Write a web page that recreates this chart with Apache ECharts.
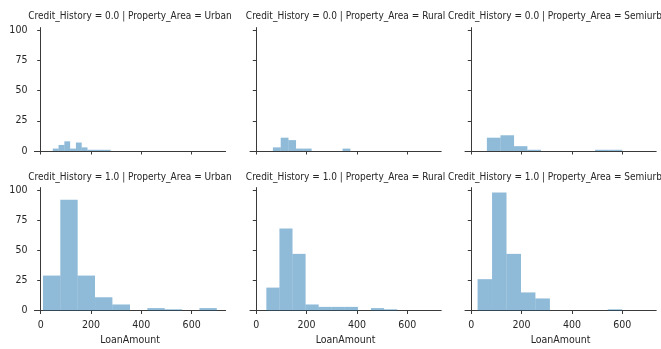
<!DOCTYPE html>
<html><head><meta charset="utf-8">
<script src="https://cdn.jsdelivr.net/npm/echarts@6/dist/echarts.min.js"></script>
<style>html,body{margin:0;padding:0;background:#fff}#c{width:661px;height:349px}</style>
</head><body><div id="c"></div>
<script>
// Facet titles
const titles = [
  'Credit_History = 0.0 | Property_Area = Urban',
  'Credit_History = 0.0 | Property_Area = Rural',
  'Credit_History = 0.0 | Property_Area = Semiurban',
  'Credit_History = 1.0 | Property_Area = Urban',
  'Credit_History = 1.0 | Property_Area = Rural',
  'Credit_History = 1.0 | Property_Area = Semiurban'
];
// Histogram bin edges (LoanAmount) and counts per facet
const edgesCH0Urban = [48, 71, 94, 117, 140, 163, 186, 209, 232, 255, 278];
const countsCH0Urban = [2, 5, 8, 2, 7, 3, 1, 1, 1, 1];
const edgesCH0Rural = [66, 97, 128, 158, 189, 220, 251, 281, 312, 343, 374];
const countsCH0Rural = [3, 11, 9, 2, 2, 0, 0, 0, 0, 2];
const edgesCH0Semi = [62, 116, 170, 223, 277, 331, 385, 439, 492, 546, 600];
const countsCH0Semi = [11, 13, 4, 1, 0, 0, 0, 0, 1, 1];
const edgesCH1Urban = [9, 78, 147, 216, 285, 355, 424, 493, 562, 631, 700];
const countsCH1Urban = [29, 92, 29, 11, 5, 0, 2, 1, 0, 2];
const edgesCH1Rural = [40, 92, 144, 196, 248, 300, 352, 404, 456, 508, 560];
const countsCH1Rural = [19, 68, 47, 5, 3, 3, 3, 0, 2, 1];
const edgesCH1Semi = [25, 82.5, 140, 197.5, 255, 312.5, 370, 427.5, 485, 542.5, 600];
const countsCH1Semi = [26, 98, 47, 15, 10, 0, 0, 0, 0, 1];
// Tick labels
const xTicks = [0, 200, 400, 600];
const yTicks = [0, 25, 50, 75, 100];
const xName = 'LoanAmount';

const panels = [
  [edgesCH0Urban, countsCH0Urban], [edgesCH0Rural, countsCH0Rural], [edgesCH0Semi, countsCH0Semi],
  [edgesCH1Urban, countsCH1Urban], [edgesCH1Rural, countsCH1Rural], [edgesCH1Semi, countsCH1Semi]
];

const FONT = "'DejaVu Sans Condensed', 'Liberation Sans Narrow', sans-serif";
const TXT = '#262626';
const AX = '#3a3a3a';
const lefts = [34.4, 250, 465];
const W = 191.2;
const tops = [27.6, 187.6];
const H = [123.4, 122.9];

const grids = [], xAxes = [], yAxes = [], series = [], titleList = [];
for (let i = 0; i < 6; i++) {
  const r = Math.floor(i / 3), c = i % 3;
  grids.push({left: lefts[c], top: tops[r], width: W, height: H[r]});
  xAxes.push({
    type: 'value', gridIndex: i, min: -25, max: 735,
    axisLine: {show: true, onZero: false, lineStyle: {color: AX, width: 1}},
    axisTick: {show: true, length: 3.5, customValues: xTicks, lineStyle: {color: AX}},
    axisLabel: {show: r === 1, customValues: xTicks, margin: 9, color: TXT, fontSize: 10.5, fontFamily: FONT},
    splitLine: {show: false},
    name: r === 1 ? xName : '', nameLocation: 'middle', nameGap: 24,
    nameTextStyle: {color: TXT, fontSize: 10.5, fontFamily: FONT}
  });
  yAxes.push({
    type: 'value', gridIndex: i, min: 0, max: 102,
    axisLine: {show: true, lineStyle: {color: AX, width: 1}},
    axisTick: {show: true, length: 3.5, customValues: yTicks, lineStyle: {color: AX}},
    axisLabel: {show: c === 0, customValues: yTicks, margin: 7, color: TXT, fontSize: 10.5, fontFamily: FONT},
    splitLine: {show: false}
  });
  const [edges, counts] = panels[i];
  const data = counts.map((v, k) => [edges[k], edges[k + 1], v]);
  series.push({
    type: 'custom', xAxisIndex: i, yAxisIndex: i, data: data,
    encode: {x: [0, 1], y: 2},
    renderItem: function (params, api) {
      const p0 = api.coord([api.value(0), 0]);
      const p1 = api.coord([api.value(1), api.value(2)]);
      return {type: 'rect', shape: {x: p0[0], y: p1[1], width: p1[0] - p0[0], height: p0[1] - p1[1]},
        style: {fill: 'rgba(31,119,180,0.5)'}};
    }
  });
  titleList.push({
    text: titles[i], left: lefts[c] + W / 2, top: r === 0 ? 11 : 172, textAlign: 'center', padding: 0,
    textStyle: {color: TXT, fontSize: 10, fontWeight: 'normal', fontFamily: FONT}
  });
}

const chart = echarts.init(document.getElementById('c'), null, {renderer: 'canvas'});
chart.setOption({
  animation: false, backgroundColor: '#fff',
  title: titleList, grid: grids, xAxis: xAxes, yAxis: yAxes, series: series
});
</script>
</body></html>
